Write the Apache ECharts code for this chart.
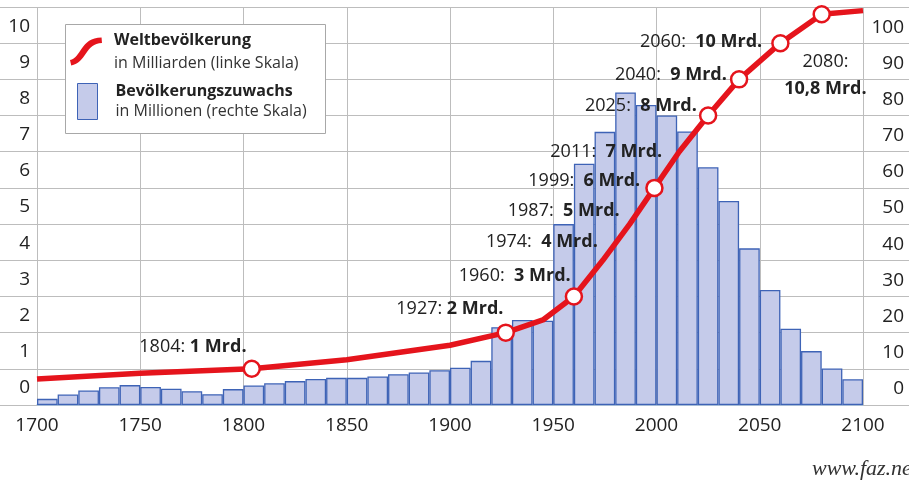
<!DOCTYPE html>
<html>
<head>
<meta charset="utf-8">
<script src="https://cdn.jsdelivr.net/npm/echarts@6/dist/echarts.min.js"></script>
<style>
  html, body { margin: 0; padding: 0; background: #fff; }
  #chart { width: 909px; height: 482px; }
</style>
</head>
<body>
<div id="chart"></div>
<script>
// Start year of each ten-year period shown as a bar
const decades = [
  1700, 1710, 1720, 1730, 1740, 1750, 1760, 1770, 1780, 1790,
  1800, 1810, 1820, 1830, 1840, 1850, 1860, 1870, 1880, 1890,
  1900, 1910, 1920, 1930, 1940, 1950, 1960, 1970, 1980, 1990,
  2000, 2010, 2020, 2030, 2040, 2050, 2060, 2070, 2080, 2090
];
// Average yearly population growth in millions (right scale)
const growthMillions = [
  1.7, 2.9, 4.0, 4.9, 5.5, 5.0, 4.5, 3.8, 3.0, 4.4,
  5.4, 6.0, 6.6, 7.2, 7.5, 7.5, 7.9, 8.5, 9.0, 9.6,
  10.3, 12.2, 21.5, 23.5, 23.3, 50.0, 66.7, 75.5, 86.4, 82.9,
  80.0, 75.6, 65.7, 56.4, 43.3, 31.8, 21.1, 14.9, 10.1, 7.1
];
// World population in billions (left scale)
const popYears    = [1700, 1750, 1804, 1850, 1900, 1927, 1945, 1960, 1974, 1987, 1999, 2011, 2025, 2040, 2060, 2080, 2100];
const popBillions = [0.72, 0.88, 1.0,  1.25, 1.65, 2.0,  2.35, 3.0,  4.0,  5.0,  6.0,  7.0,  8.0,  9.0,  10.0, 10.8, 10.9];
// Milestones: the year each new billion is reached
const milestoneYears    = [1804, 1927, 1960, 1974, 1987, 1999, 2011, 2025, 2040, 2060, 2080];
const milestoneBillions = [1, 2, 3, 4, 5, 6, 7, 8, 9, 10, 10.8];
const milestoneMarked   = [true, true, true, false, false, true, false, true, true, true, true];
// Axis ranges and tick steps
const yearRange = [1700, 2100, 50];
const billionRange = [0, 11, 1];
const millionRange = [0, 110, 10];
// Legend wording
const popName = 'Weltbevölkerung';
const popNote = 'in Milliarden (linke Skala)';
const growthName = 'Bevölkerungszuwachs';
const growthNote = 'in Millionen (rechte Skala)';

const FONT = '"Open Sans", "Noto Sans", sans-serif';
const RED = '#e5141c';
const BAR_FILL = '#c5cbea';
const BAR_EDGE = '#3e63b6';
const GRID = '#bdbdbd';
const TEXT = '#222';

// label placement for each milestone: [dx, dy] from the point to the label's right edge / middle
const labelShift = [
  [-4, -21], [-1, -23], [-2, -19], [-5, -18], [-10, -13], [-13, -6],
  [-17, 0], [-10, -8], [-11, -3], [-17, 0], [5, 62]
];
const wideGap = [false, false, true, true, true, true, true, true, true, true, false];

// thick S-shaped stroke used as the legend key of the population curve
const SWOOSH = 'path://M1,22.4 C12,20.6 11,0.5 32,0.3 L32.4,5.8 C16,6 17,25.6 2.2,27.8 Z';

const fmtBillion = v => String(v).replace('.', ',') + ' Mrd.';

const chart = echarts.init(document.getElementById('chart'), null, { renderer: 'canvas' });

const barData = decades.map((d, i) => [d + 5, growthMillions[i]]);
const lineData = popYears.map((y, i) => [y, popBillions[i]]);

const milestoneData = milestoneYears.map((y, i) => {
  const [dx, dy] = labelShift[i];
  const last = i === milestoneYears.length - 1;
  const gap = wideGap[i] ? '  ' : ' ';
  return {
    value: [y, milestoneBillions[i]],
    itemStyle: milestoneMarked[i]
      ? { color: '#fff', borderColor: RED, borderWidth: 2.5, opacity: 1 }
      : { color: 'rgba(0,0,0,0)', borderColor: 'rgba(0,0,0,0)', borderWidth: 0, opacity: 1 },
    label: {
      show: true,
      position: [8 + dx, 8 + dy],
      align: last ? 'center' : 'right',
      verticalAlign: 'middle',
      formatter: last
        ? '{y|' + y + ':}\n{v|' + fmtBillion(milestoneBillions[i]) + '}'
        : '{y|' + y + ':' + gap + '}{v|' + fmtBillion(milestoneBillions[i]) + '}',
      rich: {
        y: { fontFamily: FONT, fontSize: 18, color: TEXT, lineHeight: 27 },
        v: { fontFamily: FONT, fontSize: 18, fontWeight: 'bold', color: TEXT, lineHeight: 27 }
      }
    }
  };
});

const legendRich = (lh, pad) => ({
  b: { fontFamily: FONT, fontSize: 16, fontWeight: 'bold', color: TEXT, lineHeight: lh, padding: [0, 0, 0, pad] },
  n: { fontFamily: FONT, fontSize: 16, color: '#333', lineHeight: lh, padding: [0, 0, 0, pad] }
});

const option = {
  animation: false,
  backgroundColor: '#fff',
  textStyle: { fontFamily: FONT },
  grid: { left: 37, right: 46, top: 7, bottom: 77, containLabel: false },
  legend: [
    {
      data: [{ name: popName, icon: SWOOSH }],
      left: 70, top: 32, padding: 0,
      itemWidth: 34, itemHeight: 28,
      selectedMode: false,
      itemStyle: { color: RED, borderWidth: 0 },
      formatter: n => '{b|' + n + '}\n{n|' + popNote + '}',
      textStyle: { rich: legendRich(23, 6) },
      z: 6
    },
    {
      data: [{ name: growthName, icon: 'rect' }],
      left: 77, top: 83, padding: 0,
      itemWidth: 20, itemHeight: 36,
      selectedMode: false,
      itemStyle: { color: BAR_FILL, borderColor: BAR_EDGE, borderWidth: 1 },
      formatter: n => '{b|' + n + '}\n{n|' + growthNote + '}',
      textStyle: { rich: legendRich(20, 13) },
      z: 6
    }
  ],
  xAxis: {
    type: 'value',
    min: yearRange[0], max: yearRange[1], interval: yearRange[2],
    axisLine: { show: true, lineStyle: { color: '#9dbbdc', width: 1.5 } },
    axisTick: { show: false },
    axisLabel: { color: TEXT, fontSize: 19, margin: 11, fontFamily: FONT, formatter: v => String(v) },
    splitLine: { show: true, lineStyle: { color: GRID, width: 1 } }
  },
  yAxis: [
    {
      type: 'value',
      position: 'left',
      min: billionRange[0], max: billionRange[1], interval: billionRange[2],
      axisLine: { show: false },
      axisTick: { show: true, length: 37, lineStyle: { color: GRID } },
      axisLabel: {
        color: TEXT, fontSize: 19, fontFamily: FONT, margin: 7,
        verticalAlign: 'bottom', lineHeight: 20, padding: [0, 0, 7, 0],
        formatter: v => (v > 10 ? '' : String(v))
      },
      splitLine: { show: true, lineStyle: { color: GRID, width: 1 } }
    },
    {
      type: 'value',
      position: 'right',
      min: millionRange[0], max: millionRange[1], interval: millionRange[2],
      axisLine: { show: false },
      axisTick: { show: true, length: 46, lineStyle: { color: GRID } },
      axisLabel: {
        color: TEXT, fontSize: 19, fontFamily: FONT, margin: 41, align: 'right',
        verticalAlign: 'bottom', lineHeight: 20, padding: [0, 0, 6, 0],
        formatter: v => (v > 100 ? '' : String(v))
      },
      splitLine: { show: false }
    }
  ],
  series: [
    {
      name: growthName,
      type: 'bar',
      yAxisIndex: 1,
      data: barData,
      barWidth: '100%',
      itemStyle: { color: BAR_FILL, borderColor: BAR_EDGE, borderWidth: 1.3 },
      z: 2
    },
    {
      name: popName,
      type: 'line',
      yAxisIndex: 0,
      data: lineData,
      showSymbol: false,
      symbol: 'none',
      smooth: false,
      itemStyle: { color: RED },
      lineStyle: { color: RED, width: 5.5, join: 'round' },
      z: 3
    },
    {
      name: 'Meilensteine',
      type: 'scatter',
      yAxisIndex: 0,
      data: milestoneData,
      symbol: 'circle',
      symbolSize: 16,
      itemStyle: { opacity: 1 },
      z: 4
    }
  ],
  graphic: [
    {
      // white panel behind the two legend entries
      type: 'rect',
      left: 65, top: 24, z: 5,
      shape: { width: 260, height: 109 },
      style: { fill: '#fff', stroke: '#a8a8a8', lineWidth: 1 }
    },
    {
      // source line, running off the right edge
      type: 'text',
      x: 812, y: 469,
      style: { text: 'www.faz.net', font: 'italic 22px "Liberation Serif", serif', fill: '#333', verticalAlign: 'middle' }
    }
  ]
};

chart.setOption(option);
</script>
</body>
</html>
